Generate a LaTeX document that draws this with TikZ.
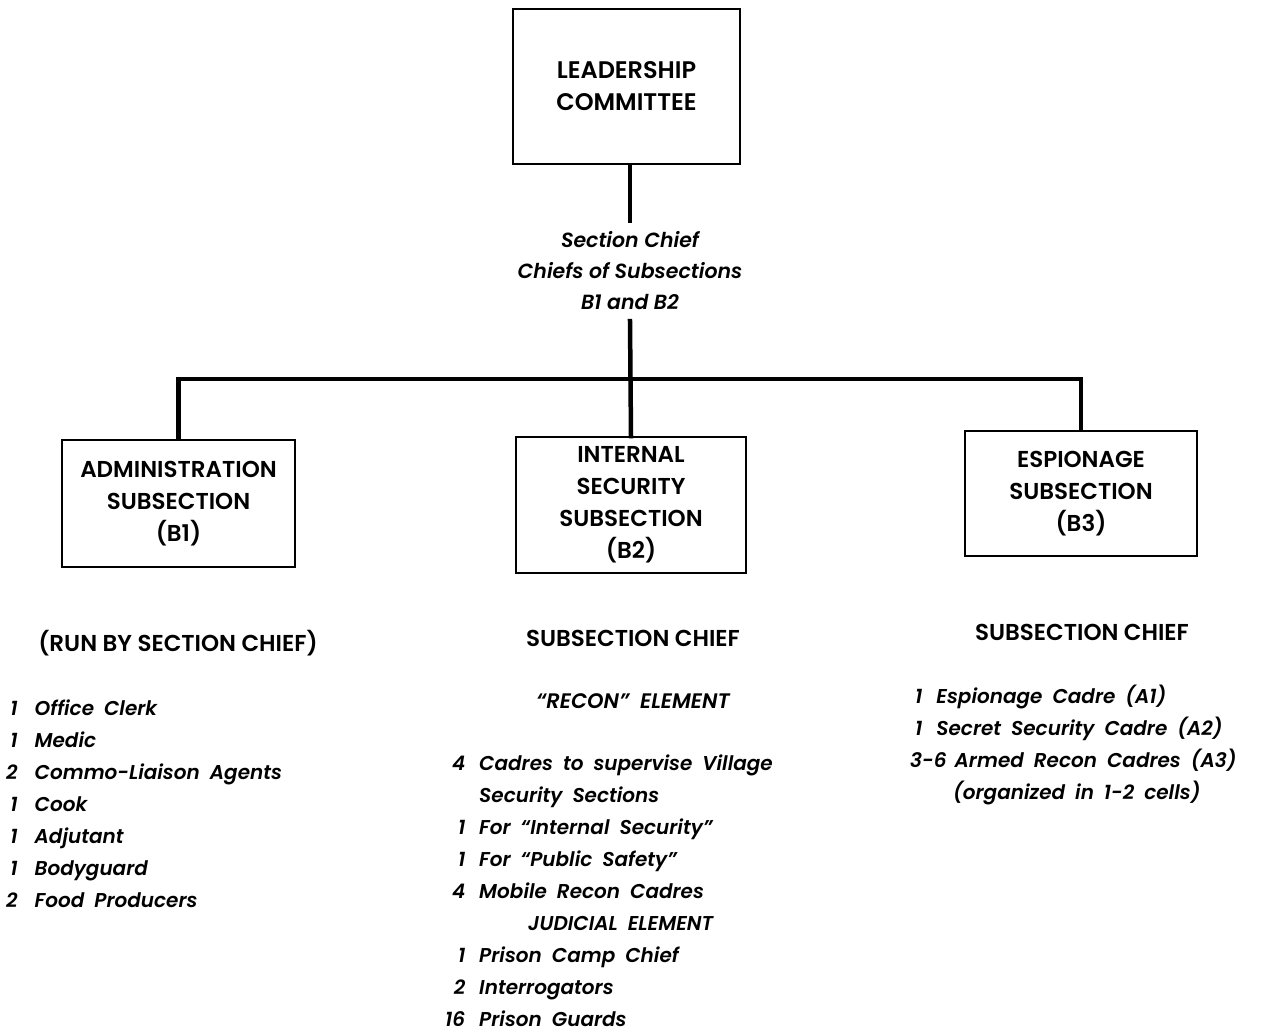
\documentclass[tikz,border=0pt]{standalone}
\usepackage{fontspec}
\setmainfont{Poppins}[BoldFont={Poppins SemiBold}, BoldItalicFont={Poppins SemiBold Italic}]
\newcommand\widesp[1]{\spaceskip=#1\relax}
\begin{document}
\begin{tikzpicture}[x=1pt, y=-1pt,
    box/.style={draw, line width=1.6pt, align=center, font=\fontsize{23}{32}\selectfont\bfseries},
    hdr/.style={align=center, inner sep=0pt, font=\fontsize{23}{32}\selectfont\bfseries},
    lst/.style={align=left, inner sep=0pt, anchor=base west,
        font=\fontsize{20}{32}\selectfont\bfseries\itshape\widesp{10pt}},
    conn/.style={line width=4.5pt, line cap=rect}]
    \useasboundingbox (0,0) rectangle (1262,1034);
    % boxes
    \node[box, minimum width=227pt, minimum height=155pt, font=\fontsize{24}{32}\selectfont\bfseries] (lead) at (626.5,86.5) {LEADERSHIP\\COMMITTEE};
    \node[box, minimum width=233pt, minimum height=127pt] (b1) at (178.5,503.5) {ADMINISTRATION\\SUBSECTION\\(B1)};
    \node[box, minimum width=230pt, minimum height=136pt] (b2) at (631,505) {INTERNAL\\SECURITY\\SUBSECTION\\(B2)};
    \node[box, minimum width=232pt, minimum height=125pt] (b3) at (1081,493.5) {ESPIONAGE\\SUBSECTION\\(B3)};
    \node[hdr, font=\fontsize{20.5}{31}\selectfont\bfseries\itshape, minimum height=100pt] (chiefs) at (630,271)
        {Section Chief\\Chiefs of Subsections\\B1 and B2};
    \coordinate (bar) at (630,379);
    % connectors
    \draw[conn] (lead.south -| chiefs.north) -- (chiefs.north);
    \draw[conn] (chiefs.south) -- (b2.north);
    \draw[conn] (b1.north) |- (bar) -| (b3.north);
    % headers
    \node[hdr] (h1) at (178,643) {(RUN BY SECTION CHIEF)};
    \node[hdr] (h2) at (633,638) {SUBSECTION CHIEF};
    \node[hdr] (h3) at (1082,632) {SUBSECTION CHIEF};
    \node[hdr, font=\fontsize{21}{31}\selectfont\bfseries\itshape\widesp{11pt}] (recon) at (633,701) {``RECON'' ELEMENT};
    % lists
    \node[lst] (l1) at (6,715) {\begin{tabular}[t]{@{}r@{\hspace{17pt}}l@{}}
        1 & Office Clerk\\
        1 & Medic\\
        2 & Commo-Liaison Agents\\
        1 & Cook\\
        1 & Adjutant\\
        1 & Bodyguard\\
        2 & Food Producers
    \end{tabular}};
    \node[lst] (l2) at (445,770) {\begin{tabular}[t]{@{}r@{\hspace{14pt}}l@{}}
        4 & Cadres to supervise Village\\
          & Security Sections\\
        1 & For ``Internal Security''\\
        1 & For ``Public Safety''\\
        4 & Mobile Recon Cadres\\
        \multicolumn{2}{@{}l@{}}{\hspace{83pt}JUDICIAL ELEMENT}\\
        1 & Prison Camp Chief\\
        2 & Interrogators\\
        16 & Prison Guards
    \end{tabular}};
    \node[lst] (l3) at (910,703) {\begin{tabular}[t]{@{}l@{}}
        \hspace{5pt}1\hspace{14pt}Espionage Cadre (A1)\\
        \hspace{5pt}1\hspace{14pt}Secret Security Cadre (A2)\\
        3-6\hspace{8pt}Armed Recon Cadres (A3)\\
        \hspace{43pt}(organized in 1-2 cells)
    \end{tabular}};
\end{tikzpicture}
\end{document}
